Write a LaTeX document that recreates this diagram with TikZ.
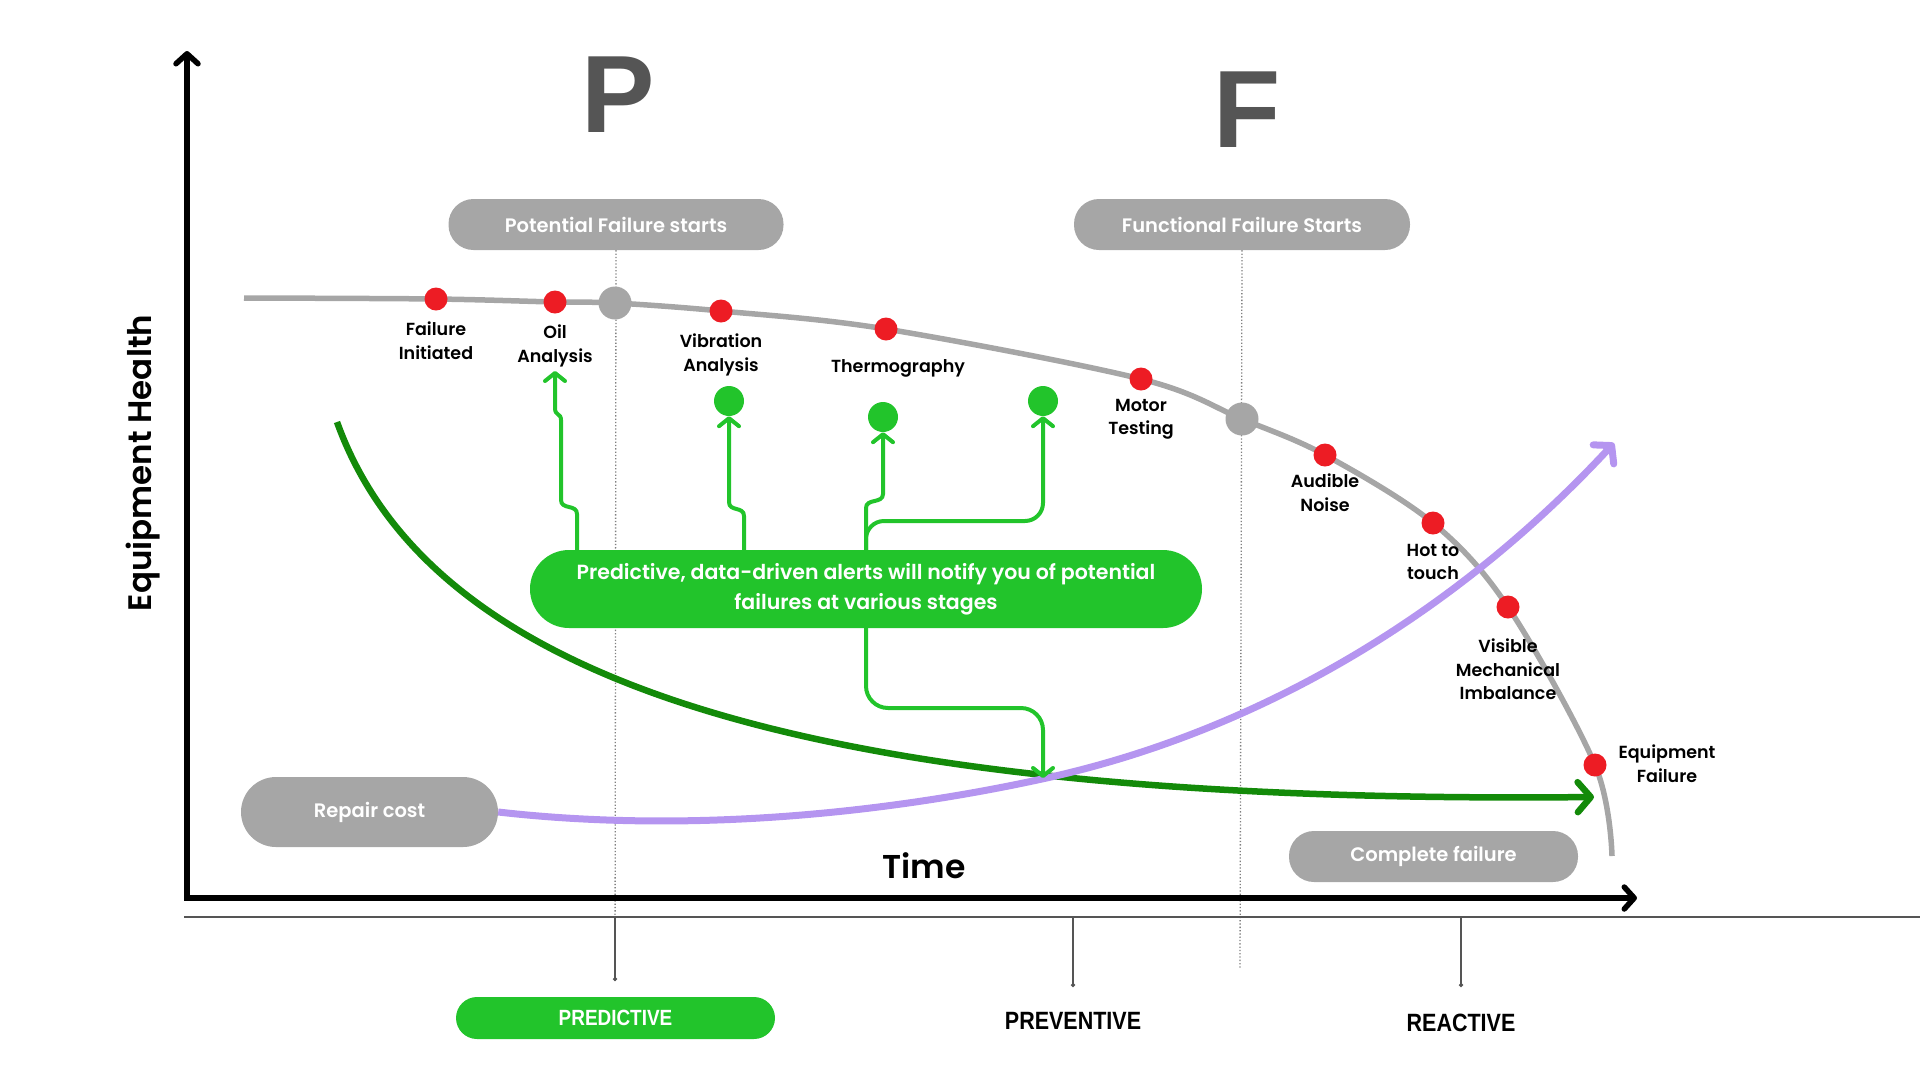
\documentclass[tikz,border=0pt]{standalone}
\usepackage{fontspec}
\setmainfont{Poppins}[BoldFont={Poppins SemiBold}]
\newfontfamily\arialfont{Liberation Sans}
\newfontfamily\condfont{Liberation Sans}[FakeStretch=0.86]
\usetikzlibrary{arrows.meta}
\definecolor{hgray}{HTML}{A6A6A6}
\definecolor{dred}{HTML}{ED1C24}
\definecolor{lgreen}{HTML}{22C42B}
\definecolor{dgreen}{HTML}{138A09}
\definecolor{lpurple}{HTML}{B595F0}
\definecolor{pfgray}{HTML}{555555}
\definecolor{lineg}{HTML}{555555}
\begin{document}
\begin{tikzpicture}[x=1pt,y=-1pt,
  graypill/.style={fill=hgray, text=white, inner sep=0pt, rounded corners=25pt,
    font=\fontsize{19.5}{23}\selectfont\bfseries},
  rdot/.style={circle, fill=dred, minimum size=23pt, inner sep=0pt},
  gdot/.style={circle, fill=lgreen, minimum size=30pt, inner sep=0pt},
  graydot/.style={circle, fill=hgray, minimum size=33pt, inner sep=0pt},
  lab/.style={font=\fontsize{17.5}{23.5}\selectfont\bfseries, align=center, anchor=north, inner sep=0pt},
  alertarr/.style={draw=lgreen, line width=4pt, -{Straight Barb[length=8pt,width=20pt,round]}},
  axisline/.style={line width=5.5pt, black},
  dotline/.style={draw=gray, line width=1.3pt, dash pattern=on 1.3pt off 2pt},
  tickline/.style={draw=lineg, line width=1.3pt, -{Circle[length=4pt]}},
  biglet/.style={font=\arialfont\fontsize{110}{110}\selectfont\bfseries, text=pfgray, inner sep=0pt},
  catlab/.style={font=\condfont\fontsize{25}{30}\selectfont\bfseries, inner sep=0pt}
]
\useasboundingbox (0,0) rectangle (1920,1080);

% dotted marker lines
\node[graypill, minimum width=335pt, minimum height=51pt] (pfs) at (616,224.5) {Potential Failure starts};
\node[graypill, minimum width=336pt, minimum height=51pt] (ffs) at (1242,224.5) {Functional Failure Starts};
\coordinate (pend) at (615,981);
\coordinate (fend) at (1240,968);
\draw[dotline] (pfs.south) -- (pend);
\draw[dotline] (ffs.south) -- (fend);

% big letters
\node[biglet] (P) at (618,95) {P};
\node[biglet] (F) at (1247,110) {F};

% axes
\coordinate (origin) at (187,898);
\coordinate (ytop) at (187,51);
\coordinate (xend) at (1637,898);
\draw[axisline, {Straight Barb[length=10pt,width=22pt,round]}-{Straight Barb[length=10pt,width=22pt,round]}] (ytop) -- (origin) -- (xend);
\node[font=\fontsize{32.5}{36}\selectfont\bfseries, rotate=90] (yl) at (143,463) {Equipment Health};
\node[font=\fontsize{33}{36}\selectfont\bfseries] (tl) at (924,866) {Time};

% bottom category line
\coordinate (bl1) at (184,917);
\coordinate (bl2) at (1920,917);
\draw[lineg, line width=1.6pt] (bl1) -- (bl2);
\coordinate (t1a) at (615,917); \coordinate (t1b) at (615,981);
\coordinate (t2a) at (1073,917); \coordinate (t2b) at (1073,987);
\coordinate (t3a) at (1461,917); \coordinate (t3b) at (1461,987);
\draw[tickline] (t1a) -- (t1b);
\draw[tickline] (t2a) -- (t2b);
\draw[tickline] (t3a) -- (t3b);
\node[fill=lgreen, text=white, rounded corners=21pt, minimum width=319pt, minimum height=42pt, inner sep=0pt,
  font=\condfont\fontsize{22}{26}\selectfont\bfseries] (pred) at (615.5,1018) {PREDICTIVE};
\node[catlab] (prev) at (1073,1021) {PREVENTIVE};
\node[catlab] (react) at (1461,1023) {REACTIVE};

% health curve
\draw[hgray, line width=5.5pt] plot[smooth, tension=0.55] coordinates {(244,298) (436,299) (555,302) (615,303) (721,311) (886,329) (1141,379) (1242,419) (1325,455) (1433,523) (1508,607) (1595,765) (1612,856)};

% repair cost and complete failure
\node[graypill, rounded corners=35pt, minimum width=257pt, minimum height=70pt] (repair) at (369.5,812) {Repair cost};
\node[graypill, minimum width=289pt, minimum height=51pt] (complete) at (1433.5,856.5) {Complete failure};

% dark green decreasing curve
\coordinate (dgs) at (337,422);
\coordinate (dge) at (1594,797);
\draw[dgreen, line width=6.5pt, -{Straight Barb[length=13pt,width=30pt,round]}] (dgs) .. controls (430,680) and (800,805) .. (dge);

% purple repair cost curve
\coordinate (pmid) at (1042,779);
\coordinate (pe) at (1614,443);
\draw[lpurple, line width=7pt, -{Straight Barb[length=12pt,width=28pt,round]}] (repair.east) .. controls (700,835) and (900,810) .. (pmid) .. controls (1250,734) and (1450,620) .. (pe);

% alert box
\node[fill=lgreen, text=white, rounded corners=39pt, minimum width=672pt, minimum height=78pt, inner sep=0pt,
  align=center, font=\fontsize{20.5}{30}\selectfont\bfseries] (alert) at (866,589)
  {Predictive, data-driven alerts will notify you of potential\\failures at various stages};

% dots on the health curve
\node[rdot] (d1) at (436,299) {};
\node[rdot] (d2) at (555,302) {};
\node[graydot] (pdot) at (615,303) {};
\node[rdot] (d3) at (721,311) {};
\node[rdot] (d4) at (886,329) {};
\node[rdot] (d5) at (1141,379) {};
\node[graydot] (fdot) at (1242,419) {};
\node[rdot] (d6) at (1325,455) {};
\node[rdot] (d7) at (1433,523) {};
\node[rdot] (d8) at (1508,607) {};
\node[rdot] (d9) at (1595,765) {};

% labels
\node[lab] (l1) at (436,322) {Failure\\Initiated};
\node[lab] (l2) at (555,325) {Oil\\Analysis};
\node[lab] (l3) at (721,334) {Vibration\\Analysis};
\node[lab] (l4) at (898,359) {Thermography};
\node[lab] (l5) at (1141,399) {Motor\\Testing};
\node[lab] (l6) at (1325,474) {Audible\\Noise};
\node[lab] (l7) at (1433,544) {Hot to\\touch};
\node[lab] (l8) at (1508,639) {Visible\\Mechanical\\Imbalance};
\node[lab] (l9) at (1667,745) {Equipment\\Failure};

% green target dots
\node[gdot] (g1) at (729,401) {};
\node[gdot] (g2) at (883,417) {};
\node[gdot] (g3) at (1043,401) {};

% alert arrows
\coordinate (a1) at (577,0);
\coordinate (a2) at (744,0);
\coordinate (a3) at (866,0);
\coordinate (oiltip) at (555,371);
\coordinate (downtip) at (1043,778);
\draw[alertarr] (alert.north -| a1) -- (577,514) .. controls (577,504) and (561,510) .. (561,500) -- (561,420) .. controls (561,413) and (555,416) .. (555,408) -- (oiltip);
\draw[alertarr] (alert.north -| a2) -- (744,516) .. controls (744,506) and (729,512) .. (729,502) -- (g1.south);
\draw[alertarr] (alert.north -| a3) -- (866,508) .. controls (866,498) and (883,504) .. (883,494) -- (g2.south);
\draw[alertarr, rounded corners=18pt] (alert.north -| a3) -- (866,521) -- (1043,521) -- (g3.south);
\draw[alertarr, rounded corners=22pt] (alert.south -| a3) -- (866,708) -- (1043,708) -- (downtip);
\end{tikzpicture}
\end{document}
